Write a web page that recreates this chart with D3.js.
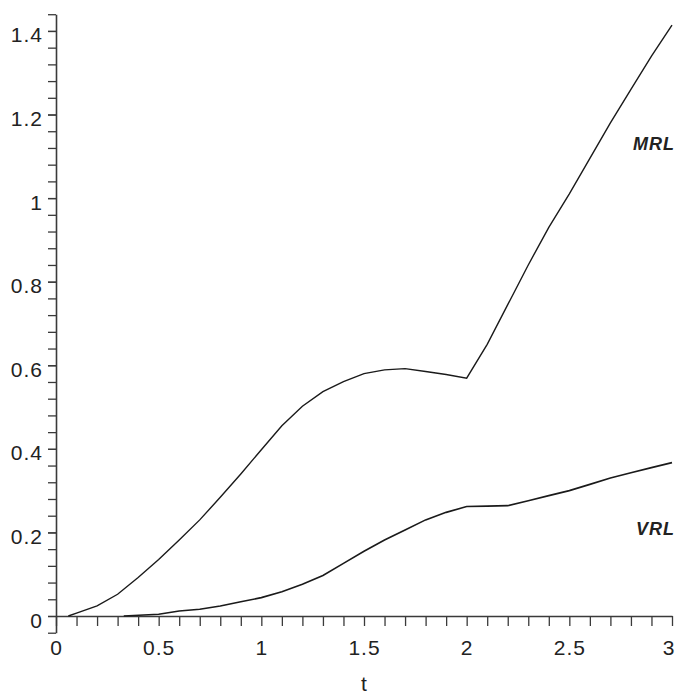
<!DOCTYPE html>
<html>
<head>
<meta charset="utf-8">
<script src="https://cdn.jsdelivr.net/npm/d3@7"></script>
<style>
  html, body { margin: 0; padding: 0; background: #fff; }
  svg { display: block; }
  text { font-family: "Liberation Sans", Arial, sans-serif; fill: #222; }
</style>
</head>
<body>
<div id="chart"></div>
<script>
// values
const mrlT = [0.06, 0.1, 0.2, 0.3, 0.4, 0.5, 0.6, 0.7, 0.8, 0.9, 1.0, 1.1, 1.2, 1.3, 1.4, 1.5, 1.6, 1.7, 1.8, 1.9, 2.0, 2.1, 2.2, 2.3, 2.4, 2.5, 2.6, 2.7, 2.8, 2.9, 3.0]
const mrlV = [0, 0.007, 0.024, 0.052, 0.092, 0.135, 0.182, 0.23, 0.284, 0.34, 0.398, 0.455, 0.502, 0.537, 0.561, 0.58, 0.589, 0.592, 0.585, 0.578, 0.569, 0.65, 0.745, 0.84, 0.93, 1.01, 1.095, 1.18, 1.26, 1.34, 1.414]

const vrlT = [0.33, 0.5, 0.6, 0.7, 0.8, 0.9, 1.0, 1.1, 1.2, 1.3, 1.4, 1.5, 1.6, 1.7, 1.8, 1.9, 2.0, 2.1, 2.2, 2.3, 2.4, 2.5, 2.6, 2.7, 2.8, 2.9, 3.0]
const vrlV = [0, 0.004, 0.012, 0.016, 0.024, 0.034, 0.044, 0.058, 0.076, 0.097, 0.126, 0.155, 0.182, 0.206, 0.23, 0.248, 0.262, 0.263, 0.264, 0.276, 0.288, 0.30, 0.315, 0.33, 0.343, 0.355, 0.367]

const xMajor = [0, 0.5, 1, 1.5, 2, 2.5, 3]
const xMinor = d3.range(0, 31).map(i => i / 10)
const yMajor = [0, 0.2, 0.4, 0.6, 0.8, 1, 1.2, 1.4]
const yMinor = d3.range(-1, 37).map(i => +(i * 0.04).toFixed(2))

const labels = [
  { name: "MRL", t: 3, v: 1.115 },
  { name: "VRL", t: 3, v: 0.194 }
]

const width = 676
const height = 694
const x0 = 56, x1 = 672
const yZero = 616, yPerUnit = 417.9

const x = d3.scaleLinear().domain([0, 3]).range([x0, x1])
const y = d3.scaleLinear()
  .domain([-0.04, 1.44])
  .range([yZero + 0.04 * yPerUnit, yZero - 1.44 * yPerUnit])

const svg = d3.select("#chart")
  .append("svg")
  .attr("width", width)
  .attr("height", height)

const axisColor = "#3a3a3a"

// y axis: minor ticks + domain line
const gyMinor = svg.append("g")
  .attr("transform", `translate(${x0},0)`)
  .call(d3.axisLeft(y).tickValues(yMinor).tickSize(8).tickSizeOuter(0).tickFormat(""))
gyMinor.select(".domain").attr("stroke", axisColor).attr("stroke-width", 1.6)
gyMinor.selectAll(".tick line").attr("stroke", axisColor).attr("stroke-width", 1.3)

// y axis labels
const gy = svg.append("g")
  .attr("transform", `translate(${x0},0)`)
  .call(d3.axisLeft(y).tickValues(yMajor).tickSize(8).tickPadding(5).tickFormat(d3.format("~g")))
gy.select(".domain").remove()
gy.selectAll(".tick line").attr("stroke", axisColor).attr("stroke-width", 1.3)
gy.selectAll(".tick text")
  .attr("dy", "11px")
  .style("font-size", "21px")
  .style("letter-spacing", "1px")
  .attr("fill", "#222")

// x axis
const gxMinor = svg.append("g")
  .attr("transform", `translate(0,${yZero})`)
  .call(d3.axisBottom(x).tickValues(xMinor).tickSize(10).tickSizeOuter(0).tickFormat(""))
gxMinor.select(".domain").attr("stroke", axisColor).attr("stroke-width", 1.6)
gxMinor.selectAll(".tick line").attr("stroke", axisColor).attr("stroke-width", 1.3)

const gx = svg.append("g")
  .attr("transform", `translate(0,${yZero})`)
  .call(d3.axisBottom(x).tickValues(xMajor).tickSize(0).tickFormat(d3.format("~g")))
gx.select(".domain").remove()
gx.selectAll(".tick text")
  .attr("y", 39)
  .attr("dy", 0)
  .style("font-size", "21px")
  .style("letter-spacing", "1px")
  .attr("fill", "#222")
// last label sits at the right edge, keep it inside the window
gx.selectAll(".tick text")
  .filter(d => d === 3)
  .attr("text-anchor", "end")
  .attr("x", 3)

svg.append("text")
  .attr("x", x(1.5))
  .attr("y", 691)
  .attr("text-anchor", "middle")
  .style("font-size", "21px")
  .text("t")

// curves
const line = d3.line()
  .x(d => x(d[0]))
  .y(d => y(d[1]))

svg.append("path")
  .datum(d3.zip(mrlT, mrlV))
  .attr("fill", "none")
  .attr("stroke", "#1a1a1a")
  .attr("stroke-width", 1.4)
  .attr("d", line)

svg.append("path")
  .datum(d3.zip(vrlT, vrlV))
  .attr("fill", "none")
  .attr("stroke", "#1a1a1a")
  .attr("stroke-width", 1.6)
  .attr("d", line)

svg.selectAll(".curve-label")
  .data(labels)
  .enter()
  .append("text")
  .attr("class", "curve-label")
  .attr("x", d => x(d.t) + 3)
  .attr("y", d => y(d.v))
  .attr("text-anchor", "end")
  .style("font-size", "18px")
  .style("font-weight", "bold")
  .style("font-style", "italic")
  .style("letter-spacing", "1px")
  .text(d => d.name)
</script>
</body>
</html>
